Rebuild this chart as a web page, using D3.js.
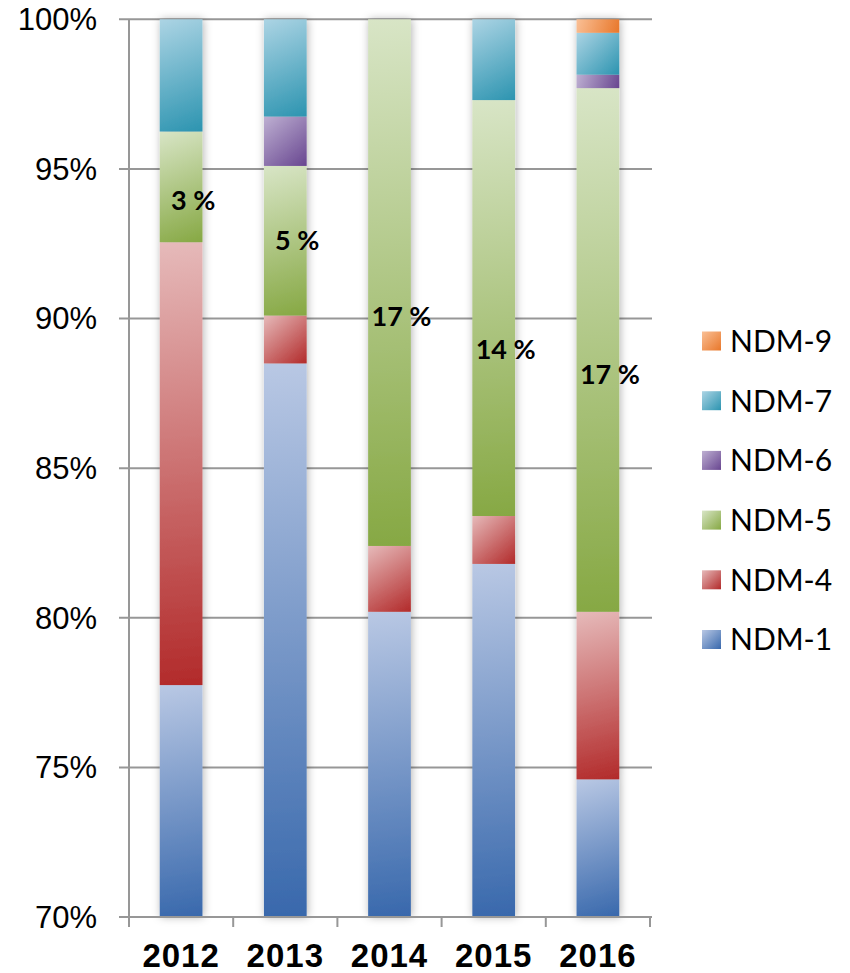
<!DOCTYPE html>
<html>
<head>
<meta charset="utf-8">
<script src="https://cdn.jsdelivr.net/npm/d3@7"></script>
<style>
  body { margin: 0; background: #fff; }
  svg { display: block; }
</style>
</head>
<body>
<script>
// categories and series (share of isolates, %)
const years = ["2012", "2013", "2014", "2015", "2016"];
const seriesNames = ["NDM-1", "NDM-4", "NDM-5", "NDM-6", "NDM-7", "NDM-9"];
const ndm1 = [77.75, 88.5, 80.2, 81.8, 74.6];
const ndm4 = [14.8, 1.6, 2.2, 1.6, 5.6];
const ndm5 = [3.7, 5.0, 17.6, 13.9, 17.5];
const ndm6 = [0, 1.65, 0, 0, 0.45];
const ndm7 = [3.75, 3.25, 0, 2.7, 1.4];
const ndm9 = [0, 0, 0, 0, 0.45];
const yTicks = [70, 75, 80, 85, 90, 95, 100];
// data labels for NDM-5, and the value (in %) where each label sits
const labelText = ["3 %", "5 %", "17 %", "14 %", "17 %"];
const labelAt = [93.96, 92.6, 90.08, 88.98, 88.14];

// gradient end colours: light, dark
const colours = {
  "NDM-1": ["#b9c8e4", "#3868ac"],
  "NDM-4": ["#e6baba", "#b22a2a"],
  "NDM-5": ["#d8e5c6", "#86a843"],
  "NDM-6": ["#beb0d2", "#684690"],
  "NDM-7": ["#acd4e4", "#2c94b0"],
  "NDM-9": ["#fac096", "#e8772a"]
};

const values = [ndm1, ndm4, ndm5, ndm6, ndm7, ndm9];
const rows = years.map((y, i) => {
  let r = { year: y };
  seriesNames.forEach((s, k) => r[s] = values[k][i]);
  return r;
});

const W = 850, H = 973;
const plotLeft = 129, plotRight = 650, plotTop = 19.3, plotBottom = 917;

const svg = d3.select("body").append("svg")
  .attr("width", W)
  .attr("height", H);

const defs = svg.append("defs");

// one gradient per drawn box, light at top-left, dark at bottom-right
function addGradient(id, s, x0, y0, x1, y1) {
  let g = defs.append("linearGradient")
    .attr("id", id)
    .attr("gradientUnits", "userSpaceOnUse")
    .attr("x1", x0).attr("y1", y0)
    .attr("x2", x1).attr("y2", y1);
  g.append("stop").attr("offset", "0%").attr("stop-color", colours[s][0]);
  g.append("stop").attr("offset", "100%").attr("stop-color", colours[s][1]);
  return "url(#" + id + ")";
}

let f = defs.append("filter").attr("id", "shadow")
  .attr("x", "-40%").attr("y", "-5%").attr("width", "180%").attr("height", "110%");
f.append("feDropShadow")
  .attr("dx", 1).attr("dy", 0)
  .attr("stdDeviation", 4)
  .attr("flood-color", "#000")
  .attr("flood-opacity", 0.3);

const x = d3.scaleBand().domain(years).range([plotLeft, plotRight]).padding(0);
// axis starts at 70%, so anything below is cut at the baseline
const y = d3.scaleLinear().domain([70, 100]).range([plotBottom, plotTop]).clamp(true);
const barW = x.bandwidth() * 0.41;

// gridlines with small ticks to the left of the axis
svg.append("g")
  .selectAll("line")
  .data(yTicks)
  .enter()
  .append("line")
  .attr("x1", plotLeft - 10)
  .attr("x2", plotRight + 2)
  .attr("y1", d => y(d))
  .attr("y2", d => y(d))
  .attr("stroke", "#979797")
  .attr("stroke-width", 2);

// vertical axis line
svg.append("line")
  .attr("x1", plotLeft).attr("x2", plotLeft)
  .attr("y1", plotTop).attr("y2", plotBottom)
  .attr("stroke", "#979797")
  .attr("stroke-width", 2);

// y tick labels
svg.append("g")
  .selectAll("text")
  .data(yTicks)
  .enter()
  .append("text")
  .attr("x", 97)
  .attr("y", d => y(d))
  .attr("dy", "0.35em")
  .attr("text-anchor", "end")
  .attr("font-family", "'Liberation Sans', Arial, sans-serif")
  .attr("font-size", 31)
  .attr("fill", "#000")
  .text(d => d + "%");

// stacked bars
const stack = d3.stack().keys(seriesNames)(rows);

const yearGroups = svg.append("g")
  .selectAll("g")
  .data(years)
  .enter()
  .append("g")
  .attr("filter", "url(#shadow)");

yearGroups.each(function(yr, i) {
  let bx = x(yr) + x.bandwidth() / 2 - barW / 2;
  d3.select(this).selectAll("rect")
    .data(stack.map((layer, k) => ({ k: k, lo: layer[i][0], hi: layer[i][1] })).filter(d => d.hi > d.lo))
    .enter()
    .append("rect")
    .attr("x", bx)
    .attr("width", barW)
    .attr("y", d => y(d.hi))
    .attr("height", d => y(d.lo) - y(d.hi))
    .attr("fill", d => addGradient("g" + i + "_" + d.k, seriesNames[d.k], bx, y(d.hi), bx + barW, y(d.lo)));
});

// x axis line and category ticks
svg.append("line")
  .attr("x1", plotLeft - 1).attr("x2", plotRight + 1)
  .attr("y1", plotBottom).attr("y2", plotBottom)
  .attr("stroke", "#979797")
  .attr("stroke-width", 2);

const bounds = years.map(d => x(d)).concat([plotRight]);
svg.append("g")
  .selectAll("line")
  .data(bounds)
  .enter()
  .append("line")
  .attr("x1", d => d).attr("x2", d => d)
  .attr("y1", plotBottom).attr("y2", plotBottom + 10)
  .attr("stroke", "#979797")
  .attr("stroke-width", 2);

svg.append("g")
  .selectAll("text")
  .data(years)
  .enter()
  .append("text")
  .attr("x", d => x(d) + x.bandwidth() / 2)
  .attr("y", 967)
  .attr("text-anchor", "middle")
  .attr("font-family", "'Liberation Sans', Arial, sans-serif")
  .attr("font-weight", "bold")
  .attr("font-size", 33)
  .attr("letter-spacing", 1)
  .attr("fill", "#000")
  .text(d => d);

// NDM-5 data labels
svg.append("g")
  .selectAll("text")
  .data(years)
  .enter()
  .append("text")
  .attr("x", d => x(d) + x.bandwidth() / 2 + 12)
  .attr("y", (d, i) => y(labelAt[i]))
  .attr("dy", "0.36em")
  .attr("text-anchor", "middle")
  .attr("font-family", "Lato, 'Open Sans', sans-serif")
  .attr("font-weight", "bold")
  .attr("font-size", 27)
  .attr("fill", "#000")
  .text((d, i) => labelText[i]);

// legend (reverse order, NDM-9 on top)
const legendItems = seriesNames.map((s, k) => ({ name: s, k: k })).reverse();
const legend = svg.append("g")
  .selectAll("g")
  .data(legendItems)
  .enter()
  .append("g")
  .attr("transform", (d, i) => "translate(702," + (341 + i * 59.7) + ")");

legend.append("rect")
  .attr("x", 0).attr("y", -9.5)
  .attr("width", 19).attr("height", 19)
  .attr("fill", d => addGradient("lg" + d.k, d.name, 0, -9.5, 19, 9.5));

legend.append("text")
  .attr("x", 28)
  .attr("y", 0)
  .attr("dy", "0.36em")
  .attr("font-family", "Lato, 'Open Sans', sans-serif")
  .attr("font-size", 30)
  .attr("fill", "#000")
  .text(d => d.name);
</script>
</body>
</html>
